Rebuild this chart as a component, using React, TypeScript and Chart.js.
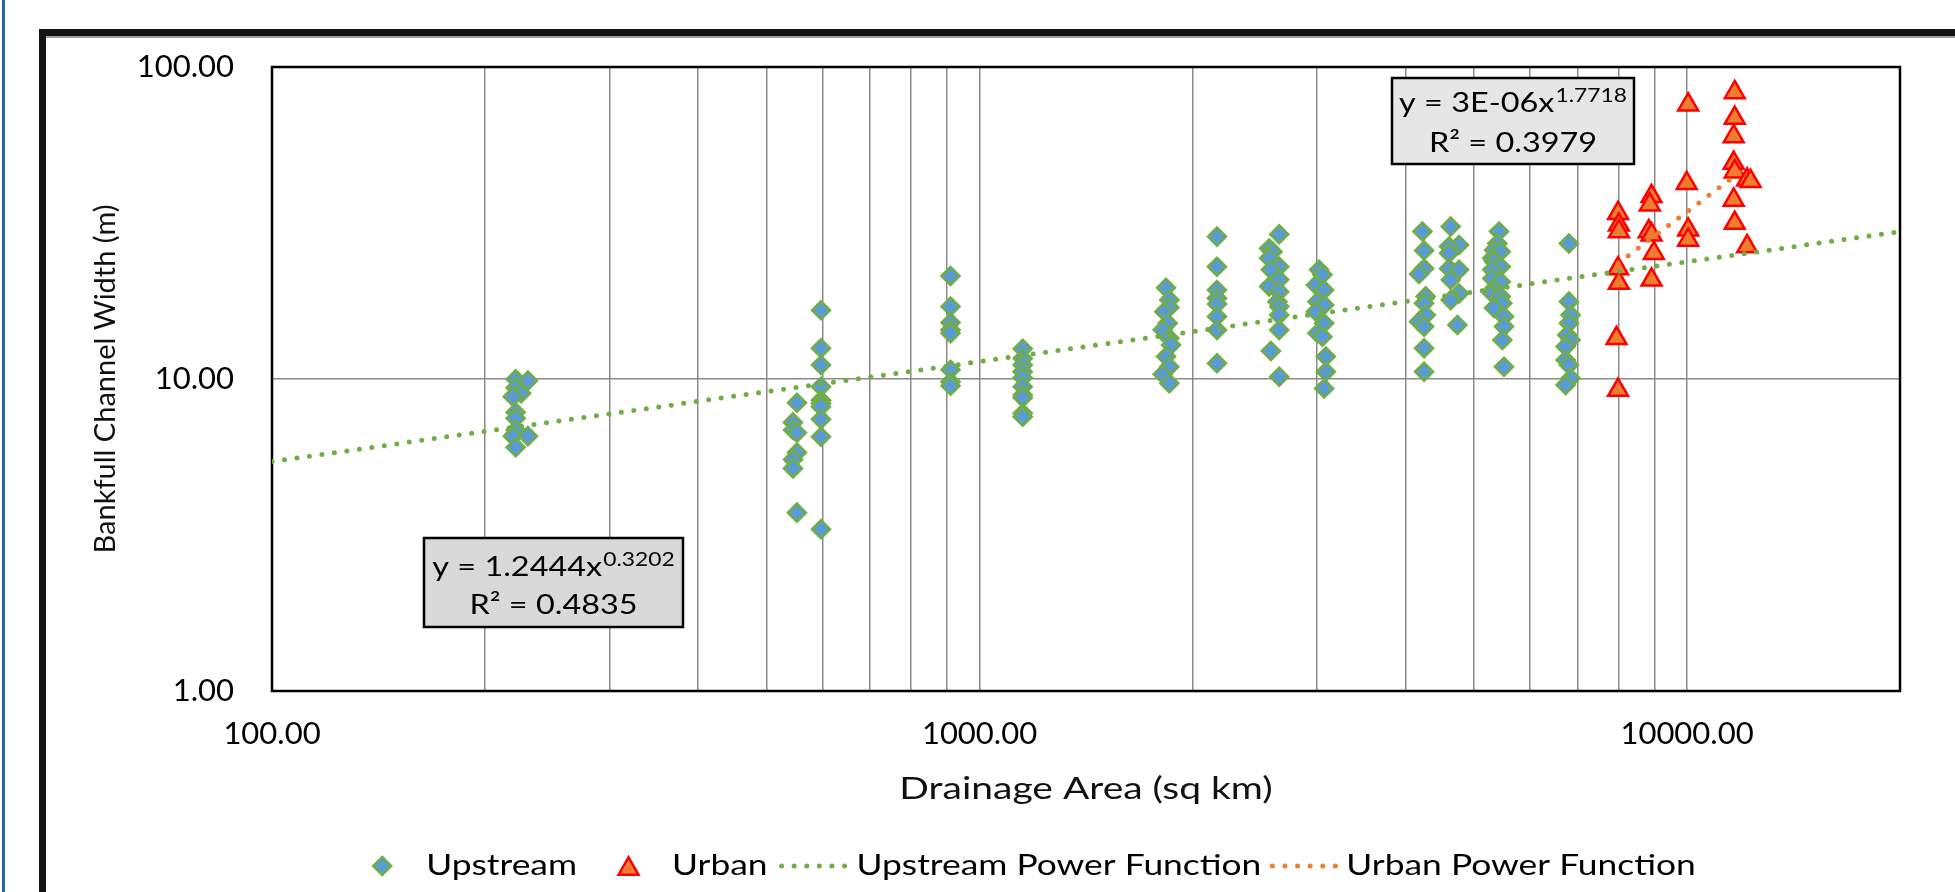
import React, { useEffect, useRef } from 'react';
import { Chart, registerables } from 'chart.js';

Chart.register(...registerables);

// ---------------- data ----------------
const upstreamArea = [
  221, 221, 225, 219, 221, 221, 221, 219, 221, 230, 230,
  552, 545, 545, 552, 552, 545, 545, 552,
  597, 597, 597, 597, 597, 597, 597, 597, 597, 597,
  910, 910, 910, 910, 910, 910, 910, 910,
  1151, 1151, 1151, 1151, 1151, 1151, 1151, 1151, 1151, 1151,
  1835, 1855, 1855, 1825, 1845, 1815, 1855, 1865, 1835, 1855, 1815, 1855,
  2166, 2166, 2166, 2166, 2166, 2166, 2166, 2166,
  2652, 2567, 2595, 2567, 2652, 2581, 2652, 2567, 2652, 2637, 2652, 2652, 2652, 2581, 2652,
  3020, 3053, 2988, 3070, 3004, 3070, 2988, 3070, 3004, 3053, 3087, 3087, 3070,
  4227, 4250, 4250, 4181, 4273, 4250, 4273, 4181, 4250, 4250, 4250,
  4634, 4762, 4610, 4610, 4610, 4762, 4634, 4762, 4634, 4737,
  5424, 5394, 5336, 5454, 5307, 5336, 5454, 5307, 5307, 5454, 5336, 5307, 5454, 5483, 5336, 5512, 5512, 5483, 5512,
  6810, 6810, 6847, 6810, 6773, 6847, 6736, 6736, 6810, 6847, 6736,
];
const upstreamWidth = [
  9.98, 9.38, 9.0, 8.78, 7.82, 7.48, 6.86, 6.56, 6.04, 9.88, 6.56,
  8.39, 7.26, 6.86, 6.73, 5.81, 5.52, 5.17, 3.73,
  16.6, 12.55, 11.09, 9.45, 8.55, 8.35, 8.15, 7.43, 6.53, 3.3,
  21.4, 17.06, 15.16, 14.36, 14.02, 10.7, 9.8, 9.51,
  12.49, 11.64, 11.09, 10.55, 10.09, 9.44, 8.88, 8.71, 7.76, 7.57,
  19.6, 17.93, 16.94, 16.44, 15.09, 14.37, 13.5, 12.85, 11.8, 10.95, 10.35, 9.69,
  28.6, 22.9, 19.3, 18.15, 17.38, 15.85, 14.36, 11.23,
  29.1, 26.2, 25.6, 24.4, 22.9, 22.4, 20.8, 19.8, 19.05, 17.7, 17.06, 16.04, 14.36, 12.3, 10.17,
  22.4, 21.6, 20.0, 19.3, 17.7, 17.28, 16.44, 15.09, 14.02, 13.67, 11.8, 10.55, 9.33,
  29.7, 25.8, 22.6, 21.7, 18.4, 17.5, 16.04, 15.27, 14.72, 12.55, 10.55,
  30.8, 26.9, 26.6, 25.3, 22.6, 22.4, 20.8, 18.8, 17.9, 14.9,
  29.7, 27.2, 25.9, 25.6, 24.4, 23.8, 22.9, 22.4, 21.0, 20.5, 19.5, 18.8, 18.4, 17.5, 16.9, 15.85, 14.72, 13.33, 10.95,
  27.2, 17.7, 16.04, 15.09, 13.84, 13.33, 12.7, 11.5, 11.09, 10.05, 9.57,
];

const urbanArea = [
  7990, 8011, 8011, 7990, 8011, 7950, 7990,
  8910, 8860, 8830, 8910, 8977, 8910,
  10037, 9990, 10037, 10037,
  11680, 11680, 11640, 11640, 11680, 12160, 12300, 11640, 11680, 12160,
];
const urbanWidth = [
  34.0, 31.2, 29.7, 22.6, 20.3, 13.5, 9.22,
  38.5, 36.2, 29.7, 29.0, 25.3, 20.8,
  75.7, 42.4, 30.1, 27.9,
  82.9, 68.6, 59.9, 49.2, 46.2, 43.5, 43.0, 37.5, 31.6, 26.6,
];

// trendline end points (power functions are straight on log-log axes)
const upstreamFitArea = [100, 20000];
const upstreamFitWidth = [5.44, 29.66];
const urbanFitArea = [7990, 12030];
const urbanFitWidth = [23.5, 47.0];

// axes
const xGridValues = [100, 200, 300, 400, 500, 600, 700, 800, 900, 1000, 2000, 3000, 4000, 5000, 6000, 7000, 8000, 9000, 10000, 20000];
const xLabelValues = [100, 1000, 10000];
const yTickValues = [1, 10, 100];
const xTitle = 'Drainage Area (sq km)';
const yTitle = 'Bankfull Channel Width (m)';

const legendLabels = ['Upstream', 'Urban', 'Upstream Power Function', 'Urban Power Function'];
const upstreamEquation = ['y = 1.2444x', '0.3202', 'R² = 0.4835'];
const urbanEquation = ['y = 3E-06x', '1.7718', 'R² = 0.3979'];

// ---------------- styles ----------------
const FONT = 'Lato, "Open Sans", sans-serif';
const BLUE = '#5B9BD5';
const GREEN = '#70AD47';
const ORANGE = '#ED7D31';
const RED = '#FF0000';
const GRID = '#8a8a8a';

const zip = (xs: number[], ys: number[]) => xs.map((x, i) => ({ x, y: ys[i] }));

// text drawn with a horizontal stretch, like the reference rendering
function stretchedText(
  ctx: CanvasRenderingContext2D,
  text: string,
  x: number,
  y: number,
  font: string,
  sx: number,
  align: CanvasTextAlign,
) {
  ctx.save();
  ctx.font = font;
  ctx.textAlign = align;
  ctx.textBaseline = 'alphabetic';
  ctx.translate(x, y);
  ctx.scale(sx, 1);
  ctx.fillText(text, 0, 0);
  ctx.restore();
}

function textWidth(ctx: CanvasRenderingContext2D, text: string, font: string, sx: number) {
  ctx.save();
  ctx.font = font;
  const w = ctx.measureText(text).width * sx;
  ctx.restore();
  return w;
}

function drawDiamond(ctx: CanvasRenderingContext2D, x: number, y: number, r: number) {
  ctx.beginPath();
  ctx.moveTo(x, y - r);
  ctx.lineTo(x + r, y);
  ctx.lineTo(x, y + r);
  ctx.lineTo(x - r, y);
  ctx.closePath();
  ctx.fillStyle = BLUE;
  ctx.fill();
  ctx.lineWidth = 2.5;
  ctx.strokeStyle = GREEN;
  ctx.stroke();
}

function drawTriangle(ctx: CanvasRenderingContext2D, x: number, y: number, r: number) {
  const h = r * 1.5;
  const top = y - h / 2;
  ctx.beginPath();
  ctx.moveTo(x, top);
  ctx.lineTo(x + r * 0.866, top + h);
  ctx.lineTo(x - r * 0.866, top + h);
  ctx.closePath();
  ctx.fillStyle = ORANGE;
  ctx.fill();
  ctx.lineWidth = 2.5;
  ctx.strokeStyle = RED;
  ctx.stroke();
}

function drawDots(ctx: CanvasRenderingContext2D, x0: number, x1: number, y: number, color: string) {
  ctx.save();
  ctx.strokeStyle = color;
  ctx.lineWidth = 5;
  ctx.lineCap = 'round';
  ctx.setLineDash([0, 12.6]);
  ctx.beginPath();
  ctx.moveTo(x0 + 3, y);
  ctx.lineTo(x1, y);
  ctx.stroke();
  ctx.restore();
}

const EQ_SX = 1.2;
function drawEquationBox(
  ctx: CanvasRenderingContext2D,
  box: { x: number; y: number; w: number; h: number },
  eq: string[],
  fill: string,
  base1: number,
  base2: number,
) {
  ctx.save();
  ctx.fillStyle = fill;
  ctx.fillRect(box.x, box.y, box.w, box.h);
  ctx.lineWidth = 2.5;
  ctx.strokeStyle = '#000';
  ctx.strokeRect(box.x, box.y, box.w, box.h);
  const mainFont = `27px ${FONT}`;
  const supFont = `19px ${FONT}`;
  ctx.fillStyle = '#000';
  const w1 = textWidth(ctx, eq[0], mainFont, EQ_SX);
  const w2 = textWidth(ctx, eq[1], supFont, EQ_SX);
  const cx = box.x + box.w / 2;
  const sx = cx - (w1 + w2 + 1) / 2;
  stretchedText(ctx, eq[0], sx, base1, mainFont, EQ_SX, 'left');
  stretchedText(ctx, eq[1], sx + w1 + 1, base1 - 10, supFont, EQ_SX, 'left');
  stretchedText(ctx, eq[2], cx, base2, mainFont, EQ_SX, 'center');
  ctx.restore();
}

const framePlugin = {
  id: 'plotFrame',
  beforeDatasetsDraw(chart: any) {
    const { ctx, chartArea: a } = chart;
    ctx.save();
    ctx.strokeStyle = '#000';
    ctx.lineWidth = 2.5;
    ctx.strokeRect(a.left, a.top, a.right - a.left, a.bottom - a.top);
    ctx.restore();
  },
};

const LEG_SX = 1.22;
const annotationPlugin = {
  id: 'annotations',
  afterDraw(chart: any) {
    const ctx: CanvasRenderingContext2D = chart.ctx;
    const a = chart.chartArea;

    // x axis title
    ctx.save();
    ctx.fillStyle = '#111';
    stretchedText(ctx, xTitle, (a.left + a.right) / 2, 799, `30px ${FONT}`, 1.3, 'center');
    ctx.restore();

    drawEquationBox(ctx, { x: 424, y: 538, w: 259, h: 89 }, upstreamEquation, '#D9D9D9', 576, 614);
    drawEquationBox(ctx, { x: 1392, y: 78, w: 242, h: 86 }, urbanEquation, '#E6E6E6', 112, 152);

    // legend
    ctx.save();
    const lf = `29px ${FONT}`;
    const w = legendLabels.map((t) => textWidth(ctx, t, lf, LEG_SX));
    const total = 20 + 34 + w[0] + 41 + 21 + 33 + w[1] + 11 + 73 + 5 + w[2] + 8 + 70 + 7 + w[3];
    let x = 1034 - total / 2;
    const cy = 866;
    const base = 875;
    drawDiamond(ctx, x + 10, cy, 9);
    x += 20 + 34;
    ctx.fillStyle = '#000';
    stretchedText(ctx, legendLabels[0], x, base, lf, LEG_SX, 'left');
    x += w[0] + 41;
    drawTriangle(ctx, x + 10.5, cy, 11.5);
    x += 21 + 33;
    ctx.fillStyle = '#000';
    stretchedText(ctx, legendLabels[1], x, base, lf, LEG_SX, 'left');
    x += w[1] + 11;
    drawDots(ctx, x, x + 73, cy, GREEN);
    x += 73 + 5;
    ctx.fillStyle = '#000';
    stretchedText(ctx, legendLabels[2], x, base, lf, LEG_SX, 'left');
    x += w[2] + 8;
    drawDots(ctx, x, x + 70, cy, ORANGE);
    x += 70 + 7;
    ctx.fillStyle = '#000';
    stretchedText(ctx, legendLabels[3], x, base, lf, LEG_SX, 'left');
    ctx.restore();
  },
};

export default function App() {
  const canvasRef = useRef<HTMLCanvasElement | null>(null);

  useEffect(() => {
    const canvas = canvasRef.current;
    if (!canvas) return;
    const chart = new Chart(canvas, {
      type: 'scatter',
      data: {
        datasets: [
          {
            label: legendLabels[2],
            data: zip(upstreamFitArea, upstreamFitWidth),
            showLine: true,
            borderColor: GREEN,
            borderWidth: 5,
            borderDash: [0, 12.6],
            borderCapStyle: 'round',
            pointRadius: 0,
            fill: false,
          },
          {
            label: legendLabels[3],
            data: zip(urbanFitArea, urbanFitWidth),
            showLine: true,
            borderColor: ORANGE,
            borderWidth: 5,
            borderDash: [0, 12.6],
            borderCapStyle: 'round',
            pointRadius: 0,
            fill: false,
          },
          {
            label: legendLabels[1],
            data: zip(urbanArea, urbanWidth),
            pointStyle: 'triangle',
            pointRadius: 11.5,
            backgroundColor: ORANGE,
            borderColor: RED,
            borderWidth: 2.5,
          },
          {
            label: legendLabels[0],
            data: zip(upstreamArea, upstreamWidth),
            pointStyle: 'rectRot',
            pointRadius: 9,
            backgroundColor: BLUE,
            borderColor: GREEN,
            borderWidth: 2.5,
          },
        ],
      },
      options: {
        responsive: false,
        animation: false,
        events: [],
        layout: { padding: { left: 0, top: 67, right: 55, bottom: 61 } },
        plugins: {
          legend: { display: false },
          tooltip: { enabled: false },
        },
        scales: {
          x: {
            type: 'logarithmic',
            min: 100,
            max: 20000,
            afterBuildTicks: (s: any) => {
              s.ticks = xGridValues.map((v) => ({ value: v }));
            },
            afterFit: (s: any) => {
              s.height = 140;
            },
            ticks: {
              autoSkip: false,
              maxRotation: 0,
              padding: 24,
              color: '#000',
              font: { family: FONT, size: 31 },
              callback: (v: any) => (xLabelValues.includes(Number(v)) ? Number(v).toFixed(2) : ''),
            },
            grid: { color: GRID, lineWidth: 1.5, drawTicks: false },
            border: { display: false },
            title: { display: false, text: xTitle },
          },
          y: {
            type: 'logarithmic',
            min: 1,
            max: 100,
            afterBuildTicks: (s: any) => {
              s.ticks = yTickValues.map((v) => ({ value: v }));
            },
            afterFit: (s: any) => {
              s.width = 272;
            },
            ticks: {
              autoSkip: false,
              padding: 38,
              color: '#000',
              font: { family: FONT, size: 31 },
              callback: (v: any) => Number(v).toFixed(2),
            },
            grid: { color: GRID, lineWidth: 1.5, drawTicks: false },
            border: { display: false },
            title: {
              display: true,
              text: yTitle,
              color: '#111',
              font: { family: FONT, size: 29 },
              padding: { top: 88, bottom: 0 },
            },
          },
        },
      },
      plugins: [framePlugin, annotationPlugin],
    } as any);
    return () => chart.destroy();
  }, []);

  return (
    <div
      style={{
        position: 'fixed',
        left: 0,
        top: 0,
        width: 1955,
        height: 892,
        background: '#fff',
        overflow: 'hidden',
      }}
    >
      <div style={{ position: 'absolute', left: 2, top: 0, width: 3, height: 892, background: '#1f6a96' }} />
      <div
        style={{
          position: 'absolute',
          left: 39,
          top: 29,
          width: 2000,
          height: 900,
          borderTop: '7px solid #141414',
          borderLeft: '7px solid #141414',
          boxSizing: 'border-box',
        }}
      />
      <div style={{ position: 'absolute', left: 46, top: 36, width: 2000, height: 1.5, background: '#a0a0a0' }} />
      <canvas
        ref={canvasRef}
        width={1955}
        height={892}
        style={{ position: 'absolute', left: 0, top: 0, width: 1955, height: 892 }}
      />
    </div>
  );
}
